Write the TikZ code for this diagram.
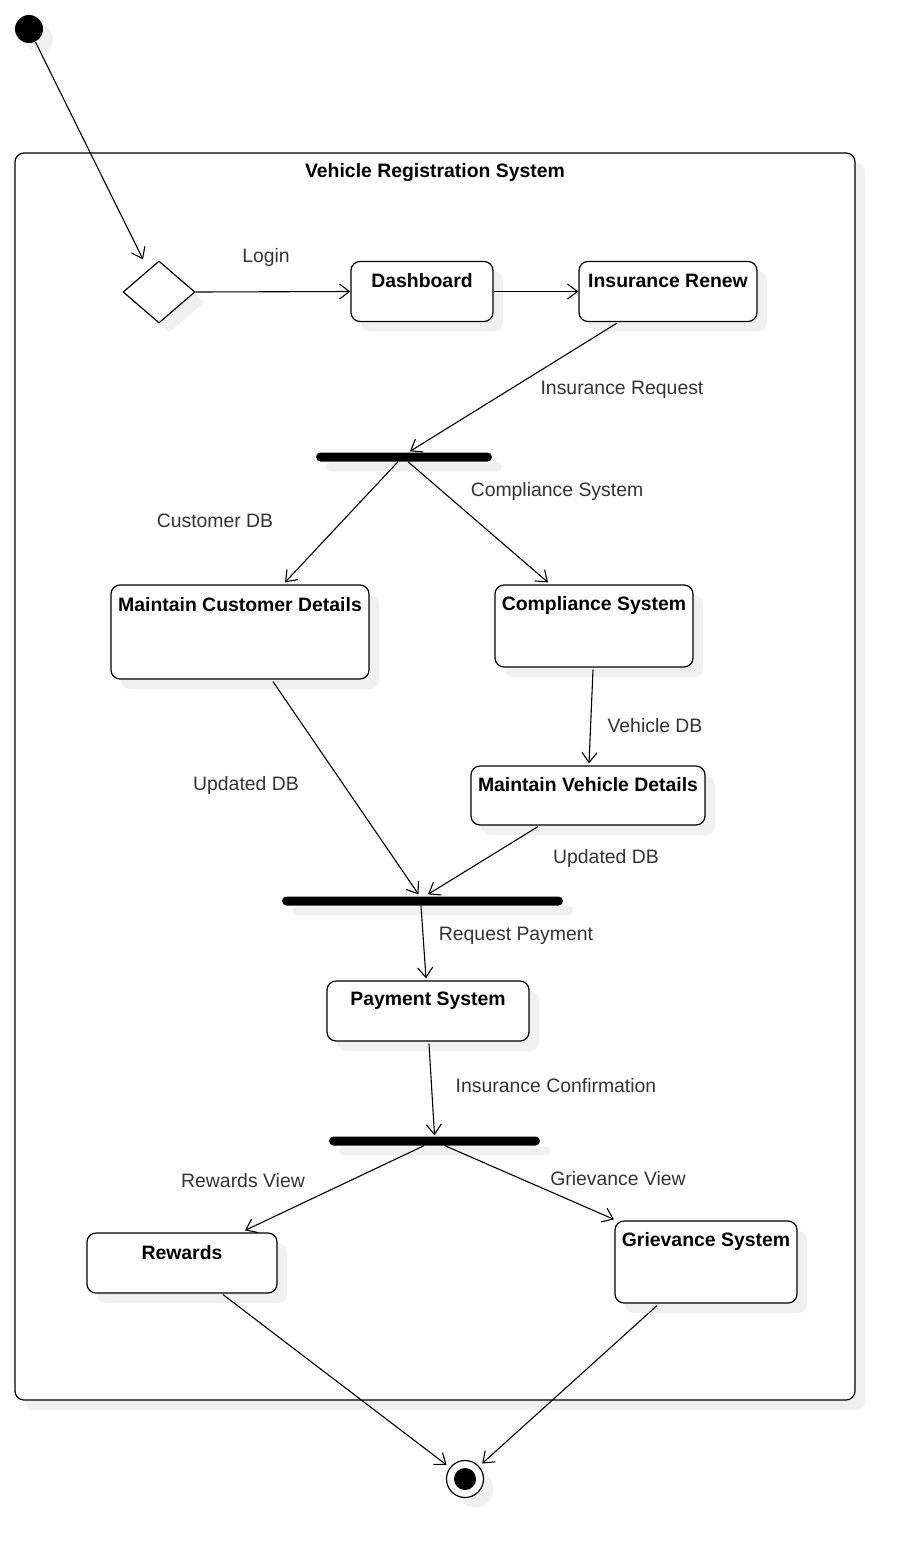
\documentclass[tikz,border=0pt]{standalone}
\usepackage{fontspec}
\setmainfont{Liberation Sans}
\usetikzlibrary{shapes.geometric,shadows,arrows.meta}
\begin{document}
\begin{tikzpicture}[x=1pt,y=-1pt,
  shadowed/.style={general shadow={fill=black!6,shadow xshift=10pt,shadow yshift=-10pt}},
  state/.style={draw=black,line width=1.2pt,rounded corners=9pt,fill=white,shadowed,inner sep=0pt},
  bar/.style={fill=black,rounded corners=4.5pt,minimum height=9pt,inner sep=0pt,shadowed},
  boxtext/.style={font=\fontsize{19.4}{22}\selectfont\bfseries,inner sep=0pt},
  lbl/.style={font=\fontsize{19.4}{22}\selectfont,text=black!80,inner sep=0pt},
  flow/.style={draw=black,line width=1.1pt,-{Straight Barb[length=10pt,width=15pt,line width=1.1pt]}}
]
\useasboundingbox (0,0) rectangle (915,1558);
% container
\node[state,minimum width=840pt,minimum height=1247pt] (sys) at (435,776.5) {};
\node[boxtext] (sysT) at (435,173) {Vehicle Registration System};
% start / decision
\node[circle,fill=black,minimum size=28pt,inner sep=0pt,shadowed] (start) at (29,29) {};
\node[diamond,draw=black,line width=1.2pt,fill=white,minimum width=72pt,minimum height=62pt,inner sep=0pt,shadowed] (dec) at (159,292) {};
% states
\node[state,minimum width=142pt,minimum height=60pt] (dash) at (422,291.5) {};
\node[boxtext] (dashT) at (422,281) {Dashboard};
\node[state,minimum width=178pt,minimum height=60pt] (ins) at (668,291.5) {};
\node[boxtext] (insT) at (668,281) {Insurance Renew};
\node[bar,minimum width=176pt] (fork1) at (404,457) {};
\node[state,minimum width=258pt,minimum height=94pt] (mcd) at (240,632) {};
\node[boxtext] (mcdT) at (240,605) {Maintain Customer Details};
\node[state,minimum width=198pt,minimum height=82pt] (comp) at (594,626) {};
\node[boxtext] (compT) at (594,605) {Compliance System};
\node[state,minimum width=234pt,minimum height=59pt] (mvd) at (588,795.5) {};
\node[boxtext] (mvdT) at (588,785) {Maintain Vehicle Details};
\node[bar,minimum width=281pt] (join) at (422.5,901) {};
\node[state,minimum width=202pt,minimum height=60pt] (pay) at (428,1011) {};
\node[boxtext] (payT) at (428,1001) {Payment System};
\node[bar,minimum width=211pt] (fork2) at (434.5,1141) {};
\node[state,minimum width=190pt,minimum height=60pt] (rew) at (182,1263) {};
\node[boxtext] (rewT) at (182,1253) {Rewards};
\node[state,minimum width=182pt,minimum height=82pt] (grv) at (706,1262) {};
\node[boxtext] (grvT) at (706,1241) {Grievance System};
% end
\node[circle,draw=black,line width=1.2pt,fill=white,minimum size=37pt,inner sep=0pt,shadowed] (end) at (465,1479) {};
\node[circle,fill=black,minimum size=22pt,inner sep=0pt] (endIn) at (465,1479) {};
% labels
\node[lbl] (lLogin) at (266,257) {Login};
\node[lbl] (lIR) at (622,390) {Insurance Request};
\node[lbl] (lCDB) at (215,521) {Customer DB};
\node[lbl] (lCS) at (557,491) {Compliance System};
\node[lbl] (lVDB) at (655,726) {Vehicle DB};
\node[lbl] (lUDB1) at (246,785) {Updated DB};
\node[lbl] (lUDB2) at (606,858) {Updated DB};
\node[lbl] (lRP) at (516,936) {Request Payment};
\node[lbl] (lIC) at (556,1086) {Insurance Confirmation};
\node[lbl] (lRV) at (243,1181) {Rewards View};
\node[lbl] (lGV) at (618,1179) {Grievance View};
% connectors
\draw[flow] (start) -- ([shift={(-16,-1)}]dec.north);
\draw[flow] (dec.east) -- (dash.west);
\draw[flow] (dash.east) -- (ins.west);
\draw[flow] ([shift={(-51,1)}]ins.south) -- ([shift={(6,-1)}]fork1.north);
\draw[flow] ([shift={(-6,0)}]fork1.south) -- ([shift={(45,-2)}]mcd.north);
\draw[flow] ([shift={(4,0)}]fork1.south) -- ([shift={(-46,-2)}]comp.north);
\draw[flow] ([shift={(-1,2)}]comp.south) -- ([shift={(1,-2)}]mvd.north);
\draw[flow] ([shift={(33,2)}]mcd.south) -- ([shift={(-4,-2)}]join.north);
\draw[flow] ([shift={(-50,1)}]mvd.south) -- ([shift={(5.5,-2)}]join.north);
\draw[flow] ([shift={(-1.5,0)}]join.south) -- ([shift={(-2,-2)}]pay.north);
\draw[flow] ([shift={(1,2)}]pay.south) -- ([shift={(0,-1)}]fork2.north);
\draw[flow] ([shift={(-10.5,0)}]fork2.south) -- ([shift={(63,-2)}]rew.north);
\draw[flow] ([shift={(10.5,0)}]fork2.south) -- ([shift={(-92,-1)}]grv.north);
\draw[flow,shorten >=4pt] ([shift={(41,1)}]rew.south) -- (end);
\draw[flow,shorten >=4pt] ([shift={(-49,2)}]grv.south) -- (end);
\end{tikzpicture}
\end{document}
